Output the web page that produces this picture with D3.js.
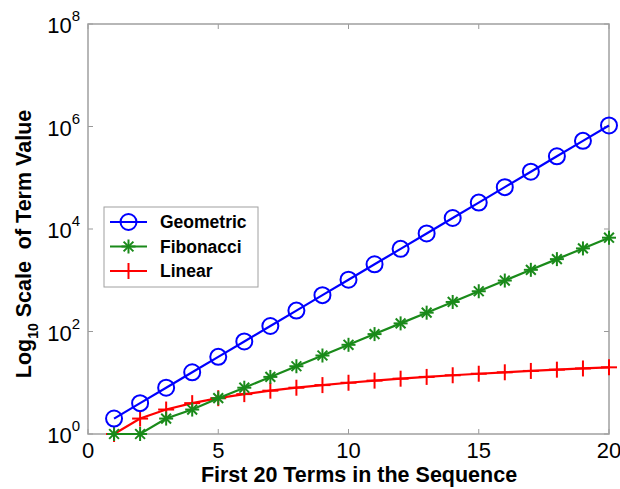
<!DOCTYPE html>
<html><head><meta charset="utf-8">
<script src="https://cdn.jsdelivr.net/npm/d3@7"></script>
<style>body{margin:0;background:#fff}svg{display:block}</style>
</head><body>
<svg id="c" width="620" height="489"></svg>
<script>
const terms = d3.range(1, 21);
const geometric = [2,4,8,16,32,64,128,256,512,1024,2048,4096,8192,16384,32768,65536,131072,262144,524288,1048576];
const fibonacci = [1,1,2,3,5,8,13,21,34,55,89,144,233,377,610,987,1597,2584,4181,6765];
const linear = [1,2,3,4,5,6,7,8,9,10,11,12,13,14,15,16,17,18,19,20];
const xTicks = [0,5,10,15,20];
const yTickExps = [0,2,4,6,8];
const seriesNames = ["Geometric","Fibonacci","Linear"];

const svg = d3.select("#c");
const L = 88, R = 609, T = 24, B = 434;
const x = d3.scaleLinear().domain([0,20]).range([L,R]);
const y = d3.scaleLog().domain([1,1e8]).range([B,T]);
const font = "'Liberation Sans', Arial, sans-serif";

const g = svg.append("g");
xTicks.forEach(t=>{
  g.append("line").attr("x1",x(t)).attr("x2",x(t)).attr("y1",B).attr("y2",B-5).attr("stroke","#999");
  g.append("line").attr("x1",x(t)).attr("x2",x(t)).attr("y1",T).attr("y2",T+5).attr("stroke","#999");
  g.append("text").attr("x",x(t)).attr("y",B+24).attr("text-anchor","middle")
   .attr("font-family",font).attr("font-size",22).text(t);
});
yTickExps.forEach(e=>{
  const yy = y(Math.pow(10,e));
  g.append("line").attr("x1",L).attr("x2",L+5).attr("y1",yy).attr("y2",yy).attr("stroke","#999");
  g.append("line").attr("x1",R).attr("x2",R-5).attr("y1",yy).attr("y2",yy).attr("stroke","#999");
  const t = g.append("text").attr("x",L-8).attr("y",yy+9).attr("text-anchor","end")
   .attr("font-family",font).attr("font-size",22);
  t.append("tspan").text("10");
  t.append("tspan").attr("font-size",15).attr("dy",-12).text(e);
});
svg.append("rect").attr("x",L).attr("y",T).attr("width",R-L).attr("height",B-T)
  .attr("fill","none").attr("stroke","#a0a0a0").attr("stroke-width",1.5);

svg.append("text").attr("x",359).attr("y",482).attr("text-anchor","middle")
  .attr("font-family",font).attr("font-weight","bold").attr("font-size",21.5)
  .text("First 20 Terms in the Sequence");
const yl = svg.append("text").attr("transform",`translate(31,244) rotate(-90)`)
  .attr("text-anchor","middle").attr("font-family",font).attr("font-weight","bold").attr("font-size",21.5)
  .attr("xml:space","preserve").style("white-space","pre");
yl.append("tspan").text("Log");
yl.append("tspan").attr("font-size",14).attr("dy",7).text("10");
yl.append("tspan").attr("dy",-7).text(" Scale  of Term Value");

const cols = ["#0000ff","#1a8a1a","#ff0000"];
const data = [geometric, fibonacci, linear];
const line = d3.line().x((d,i)=>x(terms[i])).y(d=>y(d));

function marker(sel, type, color){
  if(type===0){
    sel.append("circle").attr("r",8).attr("fill","none").attr("stroke",color).attr("stroke-width",2);
  } else if(type===1){
    const r=7;
    const p = [[-r,0,r,0],[0,-r,0,r],[-r*0.7,-r*0.7,r*0.7,r*0.7],[-r*0.7,r*0.7,r*0.7,-r*0.7]];
    p.forEach(a=>sel.append("line").attr("x1",a[0]).attr("y1",a[1]).attr("x2",a[2]).attr("y2",a[3]).attr("stroke",color).attr("stroke-width",2));
  } else {
    const r=8;
    sel.append("line").attr("x1",-r).attr("x2",r).attr("y1",0).attr("y2",0).attr("stroke",color).attr("stroke-width",2);
    sel.append("line").attr("x1",0).attr("x2",0).attr("y1",-r).attr("y2",r).attr("stroke",color).attr("stroke-width",2);
  }
}

[2,1,0].forEach(k=>{
  const arr = data[k];
  svg.append("path").attr("d",line(arr)).attr("fill","none").attr("stroke",cols[k]).attr("stroke-width",2.2);
  arr.forEach((v,i)=>{
    const m = svg.append("g").attr("transform",`translate(${x(terms[i])},${y(v)})`);
    marker(m,k,cols[k]);
  });
});

const lg = svg.append("g");
lg.append("rect").attr("x",104).attr("y",207).attr("width",154).attr("height",80)
  .attr("fill","#fff").attr("stroke","#a0a0a0").attr("stroke-width",1);
seriesNames.forEach((n,k)=>{
  const yy = 222 + k*24.5;
  lg.append("line").attr("x1",110).attr("x2",147).attr("y1",yy).attr("y2",yy).attr("stroke",cols[k]).attr("stroke-width",2);
  marker(lg.append("g").attr("transform",`translate(128.5,${yy})`),k,cols[k]);
  lg.append("text").attr("x",160).attr("y",yy+6).attr("font-family",font).attr("font-weight","bold")
    .attr("font-size",17.5).text(n);
});
</script>
</body></html>
